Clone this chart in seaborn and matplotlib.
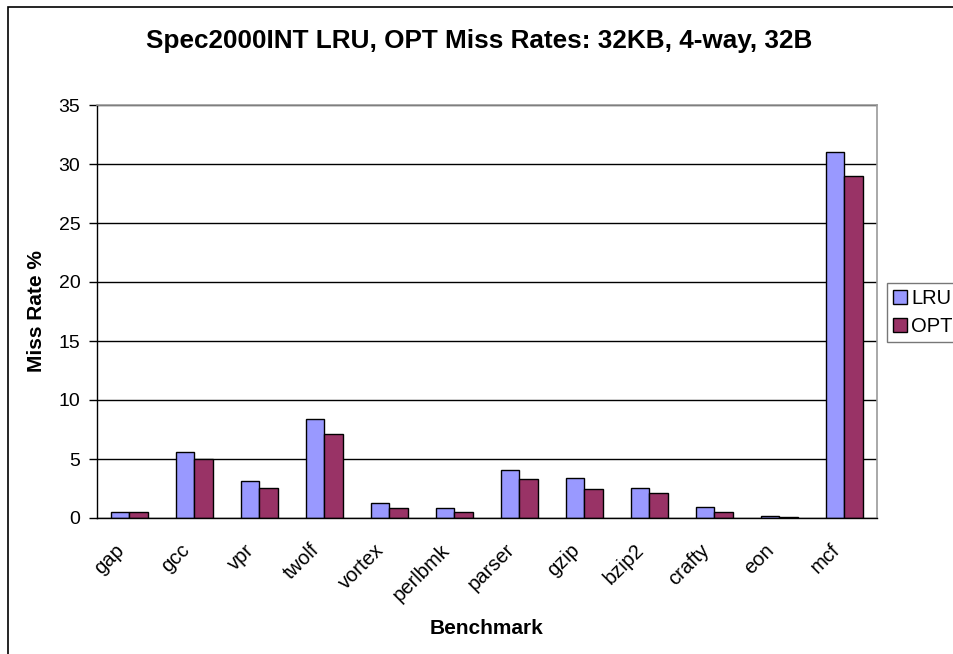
import pandas as pd
import matplotlib
matplotlib.use('Agg')
import matplotlib.pyplot as plt
import matplotlib.transforms as mtransforms
import seaborn as sns
from matplotlib.patches import Rectangle

benchmarks = ['gap', 'gcc', 'vpr', 'twolf', 'vortex', 'perlbmk', 'parser',
              'gzip', 'bzip2', 'crafty', 'eon', 'mcf']
lru = [0.54, 5.6, 3.1, 8.42, 1.3, 0.85, 4.07, 3.42, 2.54, 0.9, 0.2, 31.0]
opt = [0.5, 4.97, 2.57, 7.09, 0.82, 0.54, 3.28, 2.43, 2.09, 0.5, 0.1, 29.0]
policies = ['LRU', 'OPT']
colors = ['#9999FF', '#993366']

df = pd.DataFrame({
    'Benchmark': benchmarks * 2,
    'Policy': ['LRU'] * len(benchmarks) + ['OPT'] * len(benchmarks),
    'Miss Rate': lru + opt,
})

sns.set_style('white')
plt.rcParams['font.family'] = ['Liberation Sans', 'DejaVu Sans']
plt.rcParams['text.color'] = 'black'
plt.rcParams['axes.labelcolor'] = 'black'
plt.rcParams['xtick.color'] = 'black'
plt.rcParams['ytick.color'] = 'black'

fig = plt.figure(figsize=(9.54, 6.54), dpi=100)
ax = fig.add_axes([97 / 954, 136 / 654, 780 / 954, 413 / 654])

sns.barplot(data=df, x='Benchmark', y='Miss Rate', hue='Policy',
            hue_order=policies, palette=colors, width=0.575,
            edgecolor='black', linewidth=1, saturation=1, ax=ax, legend=False)

ax.set_ylim(0, 35)
ax.set_xlim(-0.5, len(benchmarks) - 0.5)
ax.set_yticks(range(0, 36, 5))
ax.yaxis.grid(True, color='black', linewidth=1)
ax.set_axisbelow(True)

# ticks between categories like the original
ax.set_xticks(range(len(benchmarks)))
ax.set_xticklabels(benchmarks, rotation=45, ha='right', va='center', rotation_mode='anchor')
ax.set_xticks([i - 0.5 for i in range(len(benchmarks) + 1)], minor=True)
ax.tick_params(axis='x', which='major', length=0, labelsize=14.5, pad=21)
ax.tick_params(axis='x', which='minor', length=6, width=1, color='black', direction='out')
ax.tick_params(axis='y', length=6, width=1, color='black', direction='out', labelsize=14, pad=6, left=True)
shift = mtransforms.ScaledTranslation(-8 / 100, 0, fig.dpi_scale_trans)
for lbl in ax.get_xticklabels():
    lbl.set_transform(lbl.get_transform() + shift)

for side in ['left', 'bottom']:
    ax.spines[side].set_color('black')
    ax.spines[side].set_linewidth(1)
for side in ['top', 'right']:
    ax.spines[side].set_color('#999999')
    ax.spines[side].set_linewidth(1.2)

ax.set_xlabel('Benchmark', fontsize=15, fontweight='bold')
ax.set_ylabel('Miss Rate %', fontsize=15, fontweight='bold')
ax.xaxis.set_label_coords(0.5, -(628 - 518) / 413)
ax.yaxis.set_label_coords(-(97 - 37) / 780, 0.5)
ax.xaxis.label.set_va('center')
ax.yaxis.label.set_va('center')
fig.suptitle('Spec2000INT LRU, OPT Miss Rates: 32KB, 4-way, 32B',
             x=479 / 954, y=1 - 41 / 654, va='center', fontsize=18.8, fontweight='bold')

handles = [Rectangle((0, 0), 1, 1, facecolor=c, edgecolor='black') for c in colors]
leg = fig.legend(handles, policies, loc='upper left', bbox_to_anchor=(887 / 954, 1 - 283 / 654),
                 fontsize=14.5, frameon=True, fancybox=False, borderpad=0.3,
                 handlelength=0.7, handleheight=0.7, handletextpad=0.2, labelspacing=0.45,
                 borderaxespad=0)
leg.get_frame().set_edgecolor('#555555')
leg.get_frame().set_linewidth(1)

# chart area border (cut off on right and bottom)
fig.patches.append(Rectangle((8 / 954, -0.1), 1.2, 1.1 - 7 / 654, transform=fig.transFigure,
                             fill=False, edgecolor='black', linewidth=1.2))

fig.savefig('out.png', dpi=100)
